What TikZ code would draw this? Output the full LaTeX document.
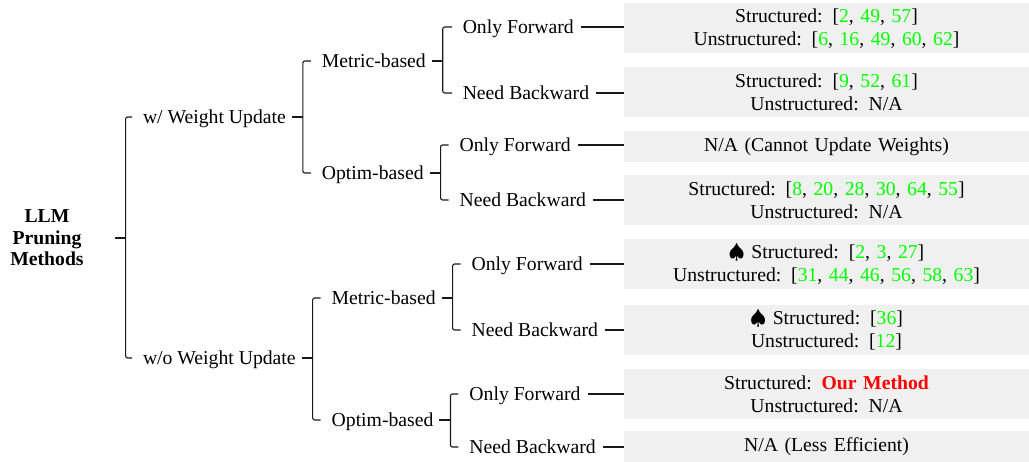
\documentclass[tikz,border=0pt]{standalone}
\usepackage{fontspec}
\setmainfont{Liberation Serif}
\usetikzlibrary{calc}
\definecolor{citegreen}{RGB}{0,255,0}
\definecolor{boxgray}{RGB}{240,240,240}
\definecolor{ourred}{RGB}{255,0,0}
\newcommand{\cgr}[1]{\textcolor{citegreen}{#1}}
\newcommand{\spd}{$\spadesuit$\ }
\tikzset{
  tnode/.style={anchor=west, inner xsep=0pt, inner ysep=0pt, outer sep=0pt,
    text height=17pt, text depth=4.3pt, font=\fontsize{19.7}{23}\selectfont},
  rootnode/.style={align=center, inner sep=0pt, outer sep=0pt,
    font=\fontsize{19.7}{21.5}\selectfont\bfseries},
  twobox/.style={fill=boxgray, anchor=west, text width=397pt, inner xsep=4pt,
    inner ysep=0pt, outer sep=0pt, align=center, minimum height=50pt,
    font=\fontsize{19.7}{23}\selectfont},
  onebox/.style={twobox, minimum height=31pt},
  edge/.style={draw=black!90, line width=1.1pt},
  bar/.style={edge, rounded corners=2pt},
}
\begin{document}
\begin{tikzpicture}[x={(1pt,0pt)}, y={(0pt,-1pt)}]
\path[use as bounding box] (0,0) rectangle (1029,462);

% root
\node[rootnode] (root) at (47,238) {LLM\\Pruning\\Methods};

% level 1
\node[tnode] (w1) at (143,117) {w/ Weight Update};
\node[tnode] (w2) at (143,358) {w/o Weight Update};

% level 2
\node[tnode] (m1) at ($(w1.east)+(36,-56)$) {Metric-based};
\node[tnode] (o1) at ($(w1.east)+(36,56)$) {Optim-based};
\node[tnode] (m2) at ($(w2.east)+(36,-60)$) {Metric-based};
\node[tnode] (o2) at ($(w2.east)+(36,62)$) {Optim-based};

% level 3
\node[tnode] (m1f) at ($(m1.east)+(37,-34)$) {Only Forward};
\node[tnode] (m1b) at ($(m1.east)+(37,32)$) {Need Backward};
\node[tnode] (o1f) at ($(o1.east)+(36,-28)$) {Only Forward};
\node[tnode] (o1b) at ($(o1.east)+(36,27)$) {Need Backward};
\node[tnode] (m2f) at ($(m2.east)+(36,-34)$) {Only Forward};
\node[tnode] (m2b) at ($(m2.east)+(36,32)$) {Need Backward};
\node[tnode] (o2f) at ($(o2.east)+(36,-26)$) {Only Forward};
\node[tnode] (o2b) at ($(o2.east)+(36,27)$) {Need Backward};

% boxes
\node[twobox] (b1) at (624,28.5) {Structured: [\cgr{2}, \cgr{49}, \cgr{57}]\\Unstructured: [\cgr{6}, \cgr{16}, \cgr{49}, \cgr{60}, \cgr{62}]};
\node[twobox] (b2) at (624,92.5) {Structured: [\cgr{9}, \cgr{52}, \cgr{61}]\\Unstructured: N/A};
\node[onebox] (b3) at (624,146.5) {N/A (Cannot Update Weights)};
\node[twobox] (b4) at (624,200) {Structured: [\cgr{8}, \cgr{20}, \cgr{28}, \cgr{30}, \cgr{64}, \cgr{55}]\\Unstructured: N/A};
\node[twobox] (b5) at (624,264) {\spd Structured: [\cgr{2}, \cgr{3}, \cgr{27}]\\Unstructured: [\cgr{31}, \cgr{44}, \cgr{46}, \cgr{56}, \cgr{58}, \cgr{63}]};
\node[twobox] (b6) at (624,330) {\spd Structured: [\cgr{36}]\\Unstructured: [\cgr{12}]};
\node[twobox] (b7) at (624,394.5) {Structured: \textcolor{ourred}{\textbf{Our Method}}\\Unstructured: N/A};
\node[onebox] (b8) at (624,447) {N/A (Less Efficient)};

% root edges
\draw[edge] ([xshift=31pt]root.east) -- ++(11,0) coordinate (rb);
\draw[bar] (rb) |- ([xshift=-11pt]w1.west);
\draw[bar] (rb) |- ([xshift=-11pt]w2.west);

% w1 edges
\draw[edge] ([xshift=6pt]w1.east) -- ++(11,0) coordinate (w1b);
\draw[bar] (w1b) |- ([xshift=-11pt]m1.west);
\draw[bar] (w1b) |- ([xshift=-11pt]o1.west);
% w2 edges
\draw[edge] ([xshift=6pt]w2.east) -- ++(11,0) coordinate (w2b);
\draw[bar] (w2b) |- ([xshift=-11pt]m2.west);
\draw[bar] (w2b) |- ([xshift=-11pt]o2.west);

% m1, o1, m2, o2 edges
\draw[edge] ([xshift=6pt]m1.east) -- ++(11,0) coordinate (m1bb);
\draw[bar] (m1bb) |- ([xshift=-11pt]m1f.west);
\draw[bar] (m1bb) |- ([xshift=-11pt]m1b.west);
\draw[edge] ([xshift=6pt]o1.east) -- ++(11,0) coordinate (o1bb);
\draw[bar] (o1bb) |- ([xshift=-11pt]o1f.west);
\draw[bar] (o1bb) |- ([xshift=-11pt]o1b.west);
\draw[edge] ([xshift=6pt]m2.east) -- ++(11,0) coordinate (m2bb);
\draw[bar] (m2bb) |- ([xshift=-11pt]m2f.west);
\draw[bar] (m2bb) |- ([xshift=-11pt]m2b.west);
\draw[edge] ([xshift=6pt]o2.east) -- ++(11,0) coordinate (o2bb);
\draw[bar] (o2bb) |- ([xshift=-11pt]o2f.west);
\draw[bar] (o2bb) |- ([xshift=-11pt]o2b.west);

% leaf to box
\draw[edge] ([xshift=7pt]m1f.east) -- (m1f.east -| b1.west);
\draw[edge] ([xshift=7pt]m1b.east) -- (m1b.east -| b2.west);
\draw[edge] ([xshift=7pt]o1f.east) -- (o1f.east -| b3.west);
\draw[edge] ([xshift=7pt]o1b.east) -- (o1b.east -| b4.west);
\draw[edge] ([xshift=7pt]m2f.east) -- (m2f.east -| b5.west);
\draw[edge] ([xshift=7pt]m2b.east) -- (m2b.east -| b6.west);
\draw[edge] ([xshift=7pt]o2f.east) -- (o2f.east -| b7.west);
\draw[edge] ([xshift=7pt]o2b.east) -- (o2b.east -| b8.west);
\end{tikzpicture}
\end{document}
